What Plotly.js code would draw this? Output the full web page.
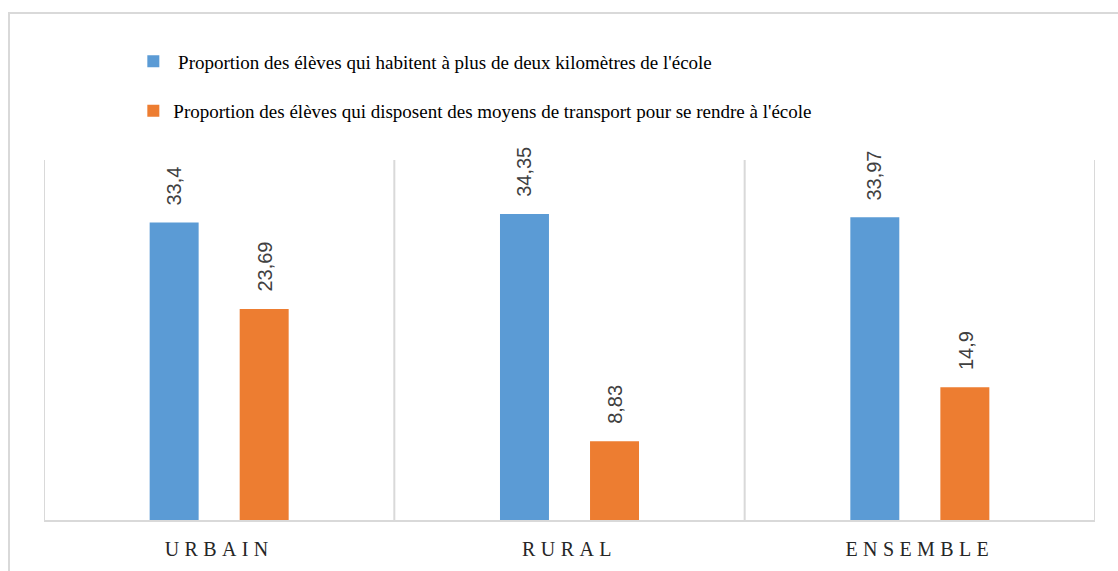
<!DOCTYPE html>
<html>
<head>
<meta charset="utf-8">
<script src="https://cdn.plot.ly/plotly-3.0.1.min.js"></script>
<style>
  html, body { margin: 0; padding: 0; background: #fff; width: 1118px; height: 571px; overflow: hidden; }
  #frame { position: absolute; left: 8px; top: 12px; width: 1200px; height: 700px; border: 2px solid #d9d9d9; box-sizing: border-box; }
  #chart { position: absolute; left: 0; top: 0; width: 1118px; height: 571px; }
  #chart .xtick text { letter-spacing: 5.4px; }
</style>
</head>
<body>
<div id="frame"></div>
<div id="chart"></div>
<script>
const categories = ["URBAIN", "RURAL", "ENSEMBLE"];
const seriesNames = [
  " Proportion des élèves qui habitent à plus de deux kilomètres de l'école",
  "Proportion des élèves qui disposent des moyens de transport pour se rendre à l'école"
];
const distanceValues = [33.4, 34.35, 33.97];
const transportValues = [23.69, 8.83, 14.9];
const seriesColors = ["#5B9BD5", "#ED7D31"];

const fmt = v => String(v).replace('.', ',');

const traces = [
  { type: 'bar', name: seriesNames[0], x: categories, y: distanceValues,
    marker: { color: seriesColors[0] }, legendgroup: 'a', hoverinfo: 'skip' },
  { type: 'bar', name: seriesNames[1], x: categories, y: transportValues,
    marker: { color: seriesColors[1] }, legendgroup: 'b', hoverinfo: 'skip' }
];

const annotations = [];
[distanceValues, transportValues].forEach((vals, s) => {
  vals.forEach((v, i) => {
    annotations.push({
      x: i + (s === 0 ? -0.13 : 0.13), xref: 'x', y: v, yref: 'y',
      text: fmt(v), textangle: -90, showarrow: false,
      xanchor: 'center', yanchor: 'bottom', yshift: 15,
      font: { family: 'Liberation Sans, Arial, sans-serif', size: 20, color: '#404040' }
    });
  });
});

const shapes = [-0.5, 0.5, 1.5, 2.5].map(xv => ({
  type: 'line', xref: 'x', yref: 'paper', x0: xv, x1: xv, y0: 0, y1: 1,
  line: { color: '#d9d9d9', width: 2 }
}));

const layout = {
  width: 1118, height: 571,
  margin: { l: 44, r: 23, t: 160, b: 51 },
  paper_bgcolor: 'rgba(0,0,0,0)', plot_bgcolor: 'rgba(0,0,0,0)',
  barmode: 'group', bargap: 0.486, bargroupgap: 0.456,
  showlegend: true,
  legend: {
    x: 0.085, xanchor: 'left', y: 1.327, yanchor: 'top',
    orientation: 'v', traceorder: 'grouped', tracegroupgap: 22,
    font: { family: 'Liberation Serif, Times New Roman, serif', size: 19, color: '#000' },
    bgcolor: 'rgba(0,0,0,0)'
  },
  xaxis: {
    type: 'category', range: [-0.5, 2.5],
    showline: true, linecolor: '#d9d9d9', linewidth: 2,
    showgrid: false, ticks: '', ticklabelstandoff: 10,
    tickfont: { family: 'Liberation Serif, Times New Roman, serif', size: 20, color: '#262626' },
    fixedrange: true
  },
  yaxis: {
    range: [0, 40.4], visible: false, showgrid: false, zeroline: false, fixedrange: true
  },
  annotations: annotations,
  shapes: shapes,
  separators: ', '
};

Plotly.newPlot('chart', traces, layout, { displayModeBar: false, staticPlot: true });
</script>
</body>
</html>
